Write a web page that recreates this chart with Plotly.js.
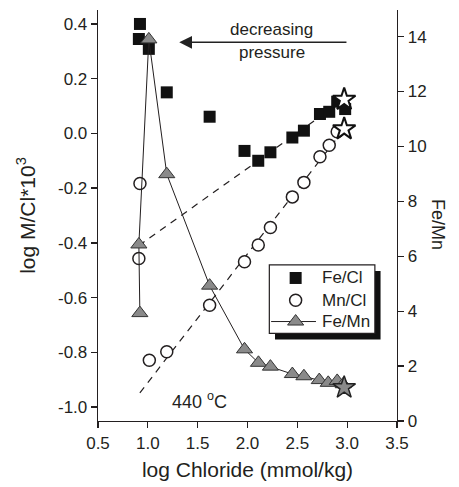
<!DOCTYPE html>
<html>
<head>
<meta charset="utf-8">
<script src="https://cdn.plot.ly/plotly-3.0.1.min.js"></script>
<style>html,body{margin:0;padding:0;background:#fff;}#chart{width:459px;height:487px;}</style>
</head>
<body>
<div id="chart"></div>
<script>
// Fe/Cl (left axis)
var feClX = [0.921, 0.91, 1.01, 1.19, 1.62, 1.97, 2.108, 2.23, 2.45, 2.566, 2.727, 2.82, 2.90, 2.98];
var feClY = [0.40, 0.345, 0.309, 0.15, 0.061, -0.064, -0.100, -0.069, -0.015, 0.010, 0.071, 0.079, 0.116, 0.089];
// Mn/Cl (left axis)
var mnClX = [0.921, 0.91, 1.015, 1.19, 1.62, 1.97, 2.108, 2.23, 2.45, 2.566, 2.727, 2.82, 2.90];
var mnClY = [-0.183, -0.457, -0.829, -0.798, -0.628, -0.469, -0.408, -0.344, -0.232, -0.179, -0.085, -0.043, 0.006];
// Fe/Mn (right axis), in drawing order
var feMnX = [0.92, 0.91, 1.01, 1.19, 1.62, 1.97, 2.11, 2.23, 2.45, 2.566, 2.72, 2.81, 2.90, 2.96];
var feMnY = [3.93, 6.43, 13.9, 8.99, 4.93, 2.61, 2.12, 1.98, 1.71, 1.63, 1.49, 1.39, 1.46, 1.34];
// Seawater end members (stars)
var starX = [2.97];
var starFeCl = [0.124];
var starMnCl = [0.016];
var starFeMn = [1.22];
// Dashed trend lines (left axis)
var feClTrendX = [0.91, 2.97];
var feClTrendY = [-0.41, 0.124];
var mnClTrendX = [0.92, 2.97];
var mnClTrendY = [-0.948, 0.016];
// Tick labels
var xTicks = [0.5, 1.0, 1.5, 2.0, 2.5, 3.0, 3.5];
var xTickText = ["0.5", "1.0", "1.5", "2.0", "2.5", "3.0", "3.5"];
var yTicks = [0.4, 0.2, 0.0, -0.2, -0.4, -0.6, -0.8, -1.0];
var yTickText = ["0.4", "0.2", "0.0", "-0.2", "-0.4", "-0.6", "-0.8", "-1.0"];
var y2Ticks = [0, 2, 4, 6, 8, 10, 12, 14];
// Legend labels
var legendNames = ["Fe/Cl", "Mn/Cl", "Fe/Mn"];

var ink = '#231f20';
var font = 'Liberation Sans, Arial, sans-serif';

// legend key layout (fractions of the plot area, on a hidden 0..1 overlay axis)
var keyU = 0.661, keyRows = [0.348, 0.294, 0.242], textU = 0.742;

var squareMarker = {symbol: 'square', size: 12, color: '#111', line: {width: 0}};
var circleMarker = {symbol: 'circle', size: 12, color: '#fff', line: {color: ink, width: 1.5}};
var triMarker = {symbol: 'triangle-up', size: 14, color: '#8a8a8a', line: {color: '#333', width: 1}};

var traces = [
  {x: feClTrendX, y: feClTrendY, mode: 'lines', hoverinfo: 'skip',
   line: {color: ink, width: 1.2, dash: '7px,6px'}},
  {x: mnClTrendX, y: mnClTrendY, mode: 'lines', hoverinfo: 'skip',
   line: {color: ink, width: 1.2, dash: '7px,6px'}},
  {x: feClX, y: feClY, mode: 'markers', name: legendNames[0], marker: squareMarker},
  {x: mnClX, y: mnClY, mode: 'markers', name: legendNames[1], marker: circleMarker},
  {x: feMnX, y: feMnY, mode: 'lines+markers', name: legendNames[2], yaxis: 'y2',
   line: {color: ink, width: 1}, marker: triMarker},
  {x: starX, y: starFeCl, mode: 'markers',
   marker: {symbol: 'star', size: 17, color: '#fff', line: {color: '#111', width: 2}}},
  {x: starX, y: starMnCl, mode: 'markers',
   marker: {symbol: 'star', size: 17, color: '#fff', line: {color: '#111', width: 2}}},
  {x: starX, y: starFeMn, mode: 'markers', yaxis: 'y2',
   marker: {symbol: 'star', size: 17, color: '#8a8a8a', line: {color: '#222', width: 1.5}}},
  // legend keys
  {x: [keyU], y: [keyRows[0]], xaxis: 'x3', yaxis: 'y3', mode: 'markers', marker: squareMarker},
  {x: [keyU], y: [keyRows[1]], xaxis: 'x3', yaxis: 'y3', mode: 'markers', marker: circleMarker},
  {x: [0.579, keyU, 0.729], y: [keyRows[2], keyRows[2], keyRows[2]], xaxis: 'x3', yaxis: 'y3',
   mode: 'lines', line: {color: ink, width: 1}},
  {x: [keyU], y: [keyRows[2]], xaxis: 'x3', yaxis: 'y3', mode: 'markers', marker: triMarker}
];

var annotations = [
  {x: 1.315, y: 0.333, ax: 3.008, ay: 0.333, xref: 'x', yref: 'y', axref: 'x', ayref: 'y',
   text: '', showarrow: true, arrowhead: 2, arrowsize: 1.7, arrowwidth: 1.5, arrowcolor: '#222'},
  {x: 2.245, y: 0.378, xref: 'x', yref: 'y', text: 'decreasing', showarrow: false,
   font: {size: 17, color: ink}},
  {x: 2.245, y: 0.294, xref: 'x', yref: 'y', text: 'pressure', showarrow: false,
   font: {size: 17, color: ink}},
  {x: 1.523, y: -0.975, xref: 'x', yref: 'y', text: '440 <sup>o</sup>C', showarrow: false,
   font: {size: 18, color: ink}},
  {x: 1.177, y: 0.477, xref: 'paper', yref: 'paper', text: 'Fe/Mn', textangle: 90,
   showarrow: false, font: {size: 18, color: ink}}
];
legendNames.forEach(function (n, i) {
  annotations.push({x: textU, y: keyRows[i], xref: 'paper', yref: 'paper', xanchor: 'left',
    yanchor: 'middle', text: n, showarrow: false, font: {size: 17, color: ink}});
});

var layout = {
  width: 459, height: 487,
  margin: {l: 98, r: 62, t: 10, b: 66},
  paper_bgcolor: '#fff', plot_bgcolor: 'rgba(0,0,0,0)',
  font: {family: font, size: 17, color: ink},
  showlegend: false,
  xaxis: {
    range: [0.5, 3.5], tickvals: xTicks, ticktext: xTickText,
    showgrid: false, zeroline: false, showline: true, linecolor: ink, linewidth: 1.3,
    ticks: 'outside', ticklen: 6, tickwidth: 1.3, tickcolor: ink,
    tickfont: {size: 17},
    title: {text: 'log Chloride (mmol/kg)', font: {size: 21}, standoff: 10}
  },
  yaxis: {
    range: [-1.051, 0.451], tickvals: yTicks, ticktext: yTickText,
    showgrid: false, zeroline: false, showline: true, linecolor: ink, linewidth: 1.3,
    ticks: 'outside', ticklen: 6, tickwidth: 1.3, tickcolor: ink,
    tickfont: {size: 17},
    title: {text: 'log M/Cl*10<sup>3</sup>', font: {size: 21}, standoff: 16}
  },
  yaxis2: {
    overlaying: 'y', side: 'right', range: [0, 14.97], tickvals: y2Ticks,
    showgrid: false, zeroline: false, showline: true, linecolor: ink, linewidth: 1.3,
    ticks: 'outside', ticklen: 6, tickwidth: 1.3, tickcolor: ink,
    tickfont: {size: 17}
  },
  xaxis3: {overlaying: 'x', range: [0, 1], visible: false, fixedrange: true},
  yaxis3: {overlaying: 'y', range: [0, 1], visible: false, fixedrange: true},
  shapes: [
    {type: 'rect', xref: 'paper', yref: 'paper', x0: 0.592, x1: 0.945, y0: 0.198, y1: 0.365,
     fillcolor: '#111', line: {width: 0}, layer: 'below'},
    {type: 'rect', xref: 'paper', yref: 'paper', x0: 0.573, x1: 0.926, y0: 0.213, y1: 0.380,
     fillcolor: '#fff', line: {color: ink, width: 1.2}, layer: 'below'}
  ],
  annotations: annotations
};

Plotly.newPlot('chart', traces, layout, {displayModeBar: false, staticPlot: true});
</script>
</body>
</html>
